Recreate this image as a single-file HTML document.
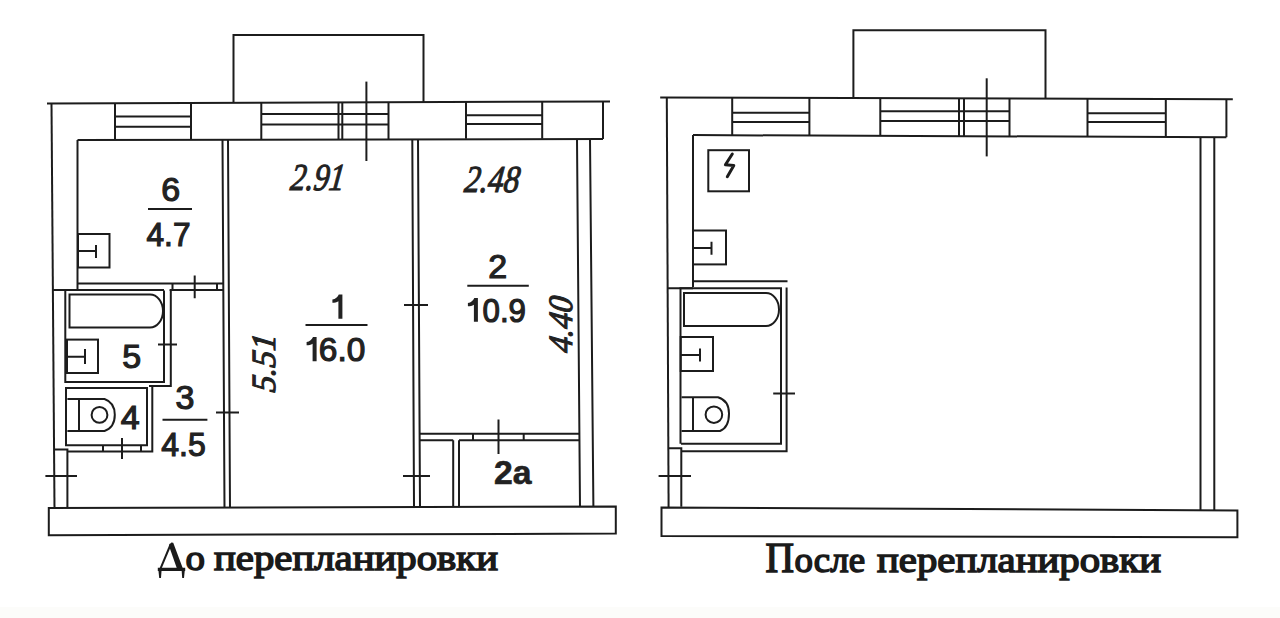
<!DOCTYPE html>
<html><head><meta charset="utf-8"><title>Floor plan</title>
<style>
html,body{margin:0;padding:0;background:#fff;width:1280px;height:618px;overflow:hidden}
svg{display:block}
.l{fill:none;stroke:#1c1c1c;stroke-width:2}
.t{stroke:#1c1c1c;stroke-width:2}
.n{font-family:"Liberation Sans",sans-serif;fill:#222}
.d{font-family:"Liberation Serif",serif;font-style:italic;fill:#222}
.c{font-family:"Liberation Serif",serif;fill:#1a1a1a;stroke:#1a1a1a;stroke-width:1.5}
</style></head>
<body>
<svg width="1280" height="618" viewBox="0 0 1280 618">
<rect x="0" y="607" width="1280" height="11" fill="#fcfcfa"/>
<g class="l">
<!-- ===== LEFT PLAN ===== -->
<!-- balcony -->
<path d="M233.5 102.5V35H423.5V102"/>
<!-- outer top wall -->
<path d="M47 103.5L610 101.5"/>
<path d="M77.5 140L603 139"/>
<path d="M603 101.5V139"/>
<!-- left outer wall -->
<path d="M51.5 103.5L54.5 508"/>
<!-- windows -->
<path d="M115 103V140M191 102.8V139.8M115 116.5H191M115 126.8H191"/>
<path d="M261.3 102.5V139.5M338.5 102.3V139.3M342.3 102.3V139.3M388.5 102.1V139.1M261.3 114H388.5M261.3 124.6H388.5"/>
<path d="M466 101.8V138.8M542.2 101.8V138.8M466 115.2H542.2M466 124H542.2"/>
<!-- dim line -->
<path d="M366.4 81.6V161"/>
<!-- kitchen -->
<path d="M77.5 140V290"/>
<path d="M222.5 140L224.5 508M228 140L230 508"/>
<path d="M78 283.5H223M53 290H164M169.6 290H223M172.5 283.5V290M217 283.5V290M194.7 275.6V298.3"/>
<rect x="78" y="234" width="31.5" height="33.5"/>
<path d="M79 251H96M96 245V258"/>
<path d="M148 209H192"/>
<!-- bathroom 5 -->
<path d="M65.3 290.5V382H164V290.5"/>
<path d="M65 290.5V291M170.8 290V386H149"/>
<path d="M69.5 294.5H150A13 16.5 0 0 1 150 327.5H69.5Z"/>
<rect x="67" y="339.6" width="31" height="33.4"/>
<path d="M68 356.7H85M85 349V364"/>
<path d="M158 344.5H177"/>
<!-- toilet 4 -->
<path d="M66 388H147V445.3H66Z"/>
<path d="M152.3 386V451.6H67"/>
<path d="M67.4 399H104.5Q114.8 402.5 114.8 414.8Q114.8 427.5 104.5 431H67.4"/>
<path d="M79 399V431"/>
<circle cx="99.5" cy="414.9" r="7.9"/>
<path d="M122 438V459M103 445.3V451.6M141 445.3V451.6"/>
<!-- left bottom segment -->
<path d="M54.5 449.4H67.4V508M45.4 476H77"/>
<!-- room 3 -->
<path d="M162.5 419.7H207.4M216 412.5H239"/>
<!-- room 1 -->
<path d="M305.5 325H367.5"/>
<path d="M412.3 139L414 507M418 139L420 507"/>
<path d="M404 305H428M403 476H430"/>
<!-- room 2 -->
<path d="M577 139L580 507M590 139L593.4 507"/>
<path d="M467.3 285.8H528.8"/>
<path d="M420 433.7H580M420 440.2H453.2M459 440.2H580M453.2 440.2V507M459 440.2V507M473 433.7V440.2M523.7 433.7V440.2M498.5 419.5V454"/>
<!-- bottom wall -->
<path d="M48.8 508L615.8 506.4V533.6L48.8 535.2Z"/>

<!-- ===== RIGHT PLAN ===== -->
<path d="M853.4 98V30.2H1045.5V99"/>
<path d="M660.2 97.5L1232.8 99.3"/>
<path d="M693 135.1L1226.4 137.2"/>
<path d="M1226.4 99.3V137.2"/>
<path d="M666.8 97.5L668.6 507.6"/>
<path d="M693 135V287"/>
<path d="M732.2 97.8V135.3M809.4 98V135.5M732.2 112.7H809.4M732.2 122H809.4"/>
<path d="M880.3 98.3V135.8M959 98.5V136M964 98.5V136M1009.5 98.7V136.2M880.3 111.2H1009.5M880.3 121.1H1009.5"/>
<path d="M1087.5 99V136.7M1165.8 99.1V136.9M1087.5 113.3H1165.8M1087.5 122H1165.8"/>
<path d="M986.7 78.3V156.4"/>
<rect x="708.3" y="150.2" width="40.7" height="41.1"/>
<path d="M732.3 154L725.4 164.8L733.8 165.6L727.3 176.7" style="stroke-width:3;stroke-linejoin:round;stroke-linecap:round"/>
<rect x="693" y="230.5" width="33" height="33.9"/>
<path d="M694 248H711.5M711.5 241.8V254.7"/>
<path d="M693.7 281.2H787.5M668 288.2H693"/>
<path d="M680.5 443.8V288.2H781V443.8H681"/>
<path d="M786.6 287.5V451.3H681"/>
<path d="M684 293H766A13 16.5 0 0 1 766 326H684Z"/>
<rect x="680.7" y="337" width="32.3" height="34"/>
<path d="M681 355H700M700 348.6V361.5"/>
<path d="M681.5 397.2H718Q729 400.5 729 413.5Q729 427.5 720 431H681.5M693 397.2V431"/>
<circle cx="713.9" cy="414.7" r="8.3"/>
<path d="M773.2 393.5H795"/>
<path d="M668.4 448.3H681.3V506.7M658.6 475.9H691"/>
<path d="M661.5 507.4L1237.4 510.5V537.3L661.5 536Z"/>
<path d="M1200.5 137.2V510.5M1214.3 137.2V510.5"/>
</g>
<!-- labels -->
<g class="n" font-size="34" stroke="#222" stroke-width="1.2">
<text x="170.7" y="200.8" text-anchor="middle">6</text>
<text x="146.5" y="245.7" textLength="44" lengthAdjust="spacingAndGlyphs">4.7</text>
<text x="131.8" y="367.5" text-anchor="middle">5</text>
<text x="130.2" y="429.4" text-anchor="middle">4</text>
<text x="185" y="409" text-anchor="middle">3</text>
<text x="161.2" y="456.3" textLength="44.5" lengthAdjust="spacingAndGlyphs">4.5</text>

<text x="318.8" y="361.2" textLength="46.5" lengthAdjust="spacingAndGlyphs">6.0</text>
<text x="497.7" y="278" text-anchor="middle">2</text>
<text x="482.5" y="321.7" textLength="43.5" lengthAdjust="spacingAndGlyphs">0.9</text>
<text x="494" y="484.2" textLength="37.5" lengthAdjust="spacingAndGlyphs" font-weight="bold" stroke-width="0.6">2a</text>
<path d="M342.4 294.4L342.4 318.8L338.4 318.8L338.4 301.2C336.6 302.2 334.6 302.8 332.4 302.8L332.4 299.6C335.4 299.0 337.8 297.0 338.8 294.4ZM316.6 336.9L316.6 361.2L312.6 361.2L312.6 343.7C310.8 344.7 308.8 345.3 306.6 345.3L306.6 342.1C309.6 341.5 312.0 339.5 313.0 336.9ZM477.9 297.9L477.9 321.7L473.9 321.7L473.9 304.7C472.1 305.7 470.1 306.3 467.9 306.3L467.9 303.1C470.9 302.5 473.3 300.5 474.3 297.9Z" stroke="none"/>
</g>
<g class="d" font-size="38" stroke="#222" stroke-width="1.1">
<text transform="translate(289.5 190.1) skewX(-7)" textLength="54" lengthAdjust="spacingAndGlyphs">2.91</text>
<text transform="translate(463.5 192.3) skewX(-7)" textLength="55" lengthAdjust="spacingAndGlyphs">2.48</text>
<text transform="translate(274.8,393) rotate(-90) skewX(-7)" font-size="34" textLength="58" lengthAdjust="spacingAndGlyphs">5.51</text>
<text transform="translate(572,353.5) rotate(-90) skewX(-7)" font-size="34" textLength="56" lengthAdjust="spacingAndGlyphs">4.40</text>
</g>
<g class="c" font-size="36.5">
<path d="M169.2 544.8L171.4 542.4L173.2 542.8L183 568.8H177L169.2 546.6Z" fill="#1a1a1a" stroke="none"/>
<path d="M170.8 544L160.4 568.8" fill="none" stroke-width="2"/>
<path d="M157.8 567.8H185.2V571H157.8Z M158.4 570H161.6L161 578H159.2Z M181.6 570H184.8L184 578H182.2Z" fill="#1a1a1a" stroke="none"/>
<text x="185.5" y="570.3" textLength="19.5" lengthAdjust="spacingAndGlyphs">о</text>
<text x="214" y="570.3" textLength="284" lengthAdjust="spacingAndGlyphs">перепланировки</text>
<text x="765.5" y="572.3" font-size="42" textLength="28.5" lengthAdjust="spacingAndGlyphs">П</text>
<text x="794.5" y="571.8" textLength="70.5" lengthAdjust="spacingAndGlyphs">осле</text>
<text x="877" y="571.8" textLength="284" lengthAdjust="spacingAndGlyphs">перепланировки</text>
</g>
</svg>
</body></html>
